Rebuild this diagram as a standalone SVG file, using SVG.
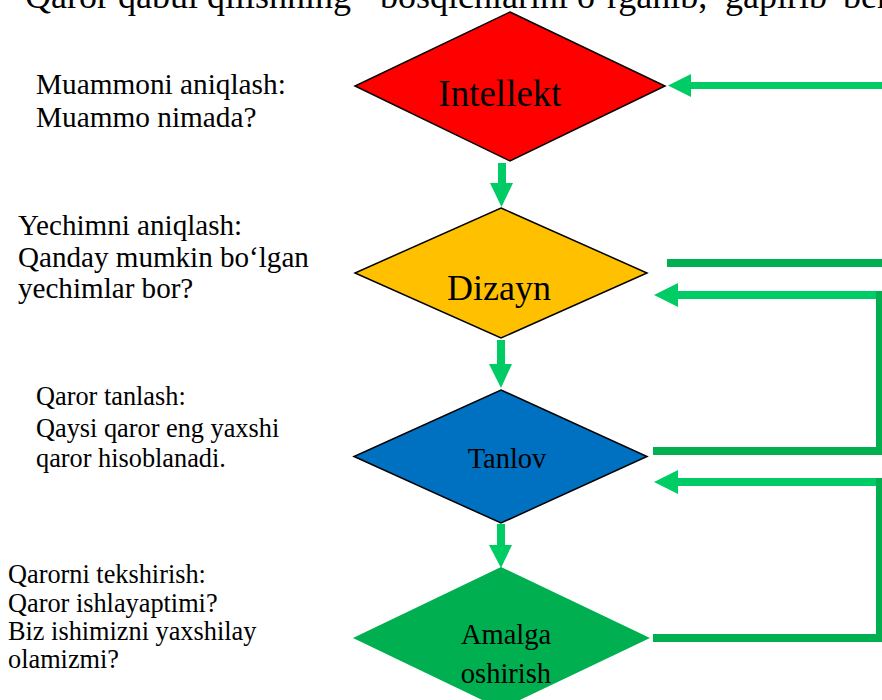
<svg xmlns="http://www.w3.org/2000/svg" width="882" height="700" viewBox="0 0 882 700">
<defs>
<style>
.lg{fill:#00CC66}
.dg{fill:#00B050}
.node{stroke:#000;stroke-width:1.5}
</style>
</defs>
<rect width="882" height="700" fill="#fff"/>
<text font-family="'Liberation Serif'" x="4" y="8" font-size="36">•<tspan x="25">Qaror qabul qilishning</tspan><tspan x="380">bosqichlarini</tspan><tspan x="577">o‘rganib,</tspan><tspan x="725">gapirib</tspan><tspan x="843">bering</tspan></text>

<g id="labels">
<text font-family="'Liberation Serif'" font-size="29.3" x="36" y="94">Muammoni aniqlash:<tspan x="36" y="127">Muammo nimada?</tspan></text>
<text font-family="'Liberation Serif'" font-size="29.1" x="18" y="235">Yechimni aniqlash:<tspan x="18" y="267">Qanday mumkin bo‘lgan</tspan><tspan x="18" y="298">yechimlar bor?</tspan></text>
<text font-family="'Liberation Serif'" font-size="26.3" x="36" y="405">Qaror tanlash:<tspan x="36" y="437">Qaysi qaror eng yaxshi</tspan><tspan x="36" y="467">qaror hisoblanadi.</tspan></text>
<text font-family="'Liberation Serif'" font-size="26.3" x="8" y="583">Qarorni tekshirish:<tspan x="8" y="612">Qaror ishlayaptimi?</tspan><tspan x="8" y="640">Biz ishimizni yaxshilay</tspan><tspan x="8" y="668">olamizmi?</tspan></text>
</g>

<g id="node-intellekt">
<polygon class="node" points="510,12 665,86 510,161 355,86" fill="#FF0000"/>
<text font-family="'Liberation Serif'" x="500" y="106" font-size="37" text-anchor="middle">Intellekt</text>
</g>
<g id="node-dizayn">
<polygon class="node" points="501,208 647,273 501,338 355,273" fill="#FFC000"/>
<text font-family="'Liberation Serif'" x="499" y="300" font-size="36" text-anchor="middle">Dizayn</text>
</g>
<g id="node-tanlov">
<polygon class="node" points="501,390 647,456.5 501,523 354,456.5" fill="#0070C0"/>
<text font-family="'Liberation Serif'" x="507" y="468" font-size="28.5" text-anchor="middle">Tanlov</text>
</g>
<g id="node-amalga">
<polygon points="501,567 650,638 501,709 353,638" fill="#00B050"/>
<text font-family="'Liberation Serif'" x="506" y="644" font-size="28.5" text-anchor="middle">Amalga<tspan x="506" y="683">oshirish</tspan></text>
</g>

<g id="connectors">
<polygon class="lg" points="498,163 506,163 506,183 513,183 501.5,207 490,183 498,183"/>
<polygon class="lg" points="497,340 505,340 505,364 512,364 501,388 489,364 497,364"/>
<polygon class="lg" points="497,524 505,524 505,545 512,545 501,568 489,545 497,545"/>
<polygon class="lg" points="882,82 691,82 691,74 668,85.5 691,97 691,89 882,89"/>
<rect class="dg" x="667" y="259" width="215" height="8"/>
<polygon class="lg" points="880,291 678,291 678,283 654,295 678,307 678,299 880,299"/>
<rect class="dg" x="876" y="291" width="6" height="164"/>
<rect class="dg" x="653" y="447" width="229" height="8"/>
<polygon class="lg" points="880,478 678,478 678,470 654,482 678,494 678,486 880,486"/>
<rect class="dg" x="876" y="478" width="6" height="164"/>
<rect class="dg" x="653" y="634" width="229" height="8"/>
</g>
</svg>
